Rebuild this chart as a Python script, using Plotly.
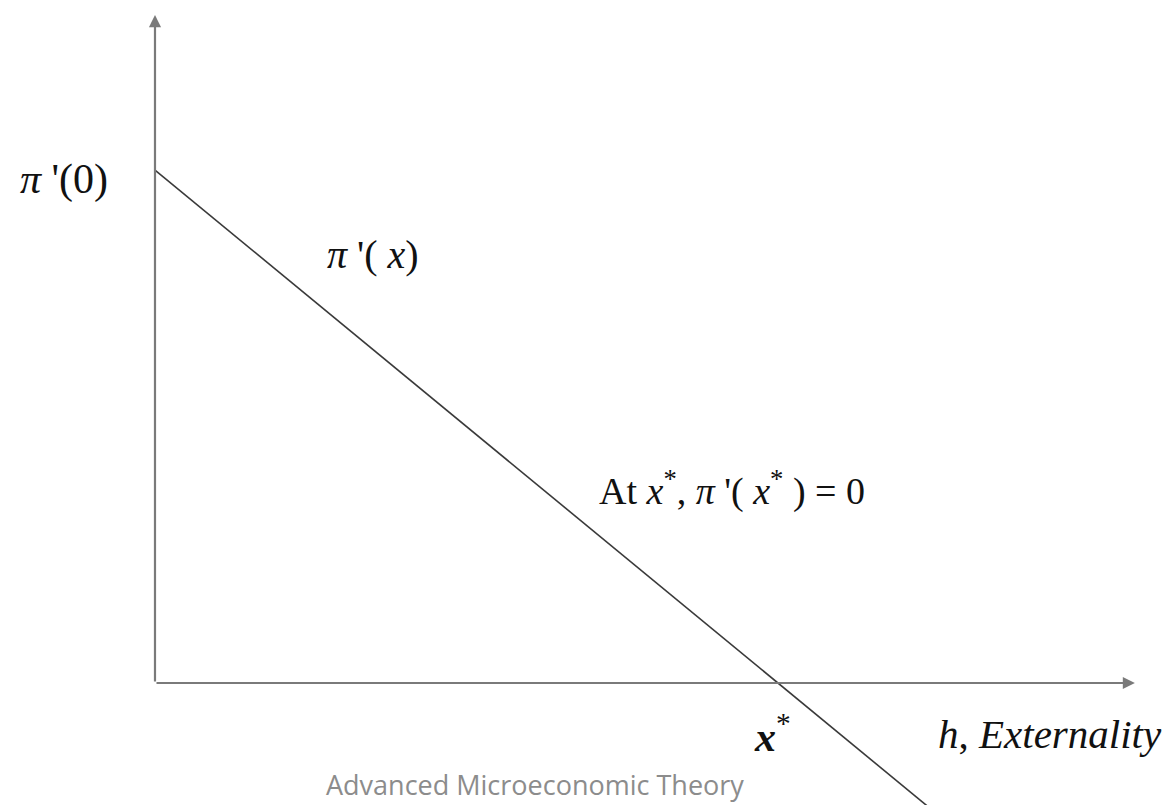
import plotly.graph_objects as go

# Data (normalized: x* = 1, pi'(0) = 1)
curve_x = [0.0, 1.0, 1.25]
curve_y = [1.0, 0.0, -0.25]
x_star = 1.0
pi0 = 1.0

XMIN, XMAX = -0.2488, 1.639
YMIN, YMAX = -0.2378, 1.3314

fig = go.Figure()
fig.add_trace(go.Scatter(x=curve_x, y=curve_y, mode="lines",
                         line=dict(color="#3a3a3a", width=1.6),
                         hoverinfo="skip", showlegend=False))

axis_col = "#7a7a7a"
# x axis arrow
fig.add_annotation(x=1.573, y=0, ax=0, ay=0, xref="x", yref="y", axref="x", ayref="y",
                   showarrow=True, arrowhead=2, arrowsize=1.1, arrowwidth=2.2,
                   arrowcolor=axis_col, text="")
# y axis arrow
fig.add_annotation(x=0, y=1.302, ax=0, ay=0, xref="x", yref="y", axref="x", ayref="y",
                   showarrow=True, arrowhead=2, arrowsize=1.1, arrowwidth=2.2,
                   arrowcolor=axis_col, text="")

serif = "Liberation Serif"
txt = "#111111"

def label(x, y, text, size, xanchor="center", yanchor="middle", family=serif, color=txt):
    fig.add_annotation(x=x, y=y, xref="paper", yref="paper", text=text, showarrow=False,
                       xanchor=xanchor, yanchor=yanchor,
                       font=dict(family=family, size=size, color=color))

W, H = 1176, 805
def px(xp, yp):
    return xp / W, 1 - yp / H

x, y = px(64, 180)
label(x, y, "<i>π</i> '(0)", 42)
x, y = px(373, 254)
label(x, y, "<i>π</i> '( <i>x</i>)", 40)
x, y = px(732, 488)
label(x, y, "At <i>x</i><sup>*</sup>, <i>π</i> '( <i>x</i><sup>*</sup> ) = 0", 38)
x, y = px(772, 733)
label(x, y, "<b><i>x</i></b><sup>*</sup>", 42)
x, y = px(1050, 734)
label(x, y, "<i>h</i>, <i>Externality</i>", 41)
x, y = px(535, 805)
label(x, y, "Advanced Microeconomic Theory", 27, yanchor="bottom",
      family="Open Sans", color="#8c8c8c")

fig.update_layout(
    width=W, height=H,
    margin=dict(l=0, r=0, t=0, b=0),
    paper_bgcolor="white", plot_bgcolor="white",
    xaxis=dict(range=[XMIN, XMAX], visible=False, fixedrange=True),
    yaxis=dict(range=[YMIN, YMAX], visible=False, fixedrange=True),
    showlegend=False,
)

fig.write_html("out.html", config={"displayModeBar": False},
               post_script="document.body.style.margin='0px';document.body.style.overflow='hidden';")
